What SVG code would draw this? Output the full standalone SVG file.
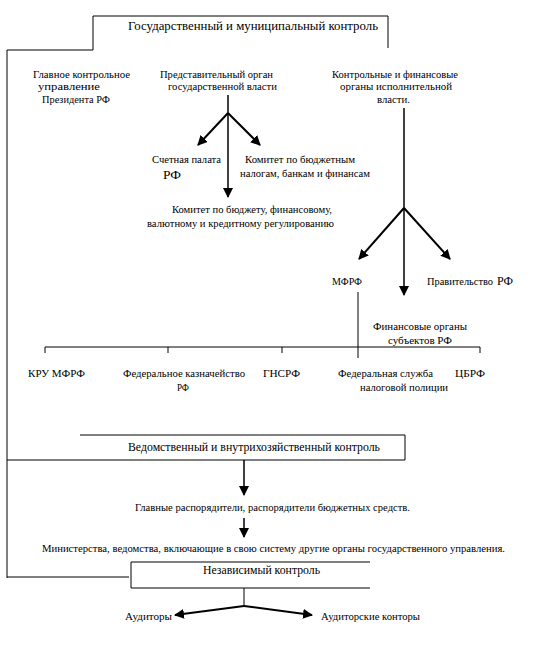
<svg xmlns="http://www.w3.org/2000/svg" width="536" height="658" viewBox="0 0 536 658" font-family="'Liberation Serif', 'Times New Roman', serif">
<defs>
<style>
text{font-family:'Liberation Serif','Times New Roman',serif;font-size:10px;fill:#000}
.big{font-size:13px}
.mid{font-size:12px}
.ln{stroke:#000;stroke-width:1;fill:none}
.ar{stroke:#000;stroke-width:2;fill:none;marker-end:url(#ah)}
.arl{stroke:#000;stroke-width:1.5;fill:none;marker-end:url(#ah)}
</style>
<marker id="ah" viewBox="0 0 10 10" refX="9" refY="5" markerWidth="10" markerHeight="10" markerUnits="userSpaceOnUse" orient="auto">
<path d="M0,0 L10,5 L0,10 z" fill="#000"/>
</marker>
</defs>
<rect width="536" height="658" fill="#fff"/>

<g id="connectors">
<path class="ln" d="M93,50 V16 H388 V48"/>
<path class="ln" d="M93,50 H7 V578"/>
<path class="arl" d="M228,95 V197"/>
<path class="ar" d="M228,113 L198,145"/>
<path class="ar" d="M228,113 L260,145"/>
<path class="arl" d="M404,108 V295"/>
<path class="ar" d="M404,208 L359,259"/>
<path class="ar" d="M404,208 L450,259"/>
<path class="ln" d="M358,292 V358"/>
<path class="ln" d="M45,353 V347 H480 V353 M168,347 V353 M282,347 V353"/>
<path class="ln" d="M80,435 H405 V460 H7"/>
<path class="arl" d="M244,460 V495"/>
<path class="arl" d="M244,518 V537"/>
<path class="ln" d="M370,562 H131 V588 H370 M7,577 H129"/>
<path class="ln" d="M244,588 V606"/>
<path class="ar" d="M244,606 L175,615"/>
<path class="ar" d="M244,606 L312,615"/>
</g>

<g id="n-state"><text class="big" x="128" y="30" textLength="250" lengthAdjust="spacingAndGlyphs">Государственный и муниципальный контроль</text></g>
<g id="n-gku">
<text x="33" y="78" textLength="97" lengthAdjust="spacingAndGlyphs">Главное контрольное</text>
<text x="38" y="90" textLength="62" lengthAdjust="spacingAndGlyphs">управление</text>
<text x="42" y="103" textLength="68" lengthAdjust="spacingAndGlyphs">Президента РФ</text>
</g>
<g id="n-repr">
<text x="160" y="78" textLength="113" lengthAdjust="spacingAndGlyphs">Представительный орган</text>
<text x="168" y="90" textLength="109" lengthAdjust="spacingAndGlyphs">государственной власти</text>
</g>
<g id="n-exec">
<text x="332" y="78" textLength="126" lengthAdjust="spacingAndGlyphs">Контрольные и финансовые</text>
<text x="340" y="90" textLength="112" lengthAdjust="spacingAndGlyphs">органы исполнительной</text>
<text x="377" y="103" textLength="33" lengthAdjust="spacingAndGlyphs">власти.</text>
</g>
<g id="n-sp">
<text x="152" y="163" textLength="69" lengthAdjust="spacingAndGlyphs">Счетная палата</text>
<text class="big" x="163" y="179" textLength="18" lengthAdjust="spacingAndGlyphs">РФ</text>
</g>
<g id="n-kom1">
<text x="245" y="163" textLength="110" lengthAdjust="spacingAndGlyphs">Комитет по бюджетным</text>
<text x="240" y="177" textLength="130" lengthAdjust="spacingAndGlyphs">налогам, банкам и финансам</text>
</g>
<g id="n-kom2">
<text x="172" y="213" textLength="160" lengthAdjust="spacingAndGlyphs">Комитет по бюджету, финансовому,</text>
<text x="147" y="227" textLength="187" lengthAdjust="spacingAndGlyphs">валютному и кредитному регулированию</text>
</g>
<g id="n-mfrf"><text x="332" y="285" textLength="30" lengthAdjust="spacingAndGlyphs">МФРФ</text></g>
<g id="n-gov"><text x="427" y="285" textLength="66" lengthAdjust="spacingAndGlyphs">Правительство</text><text class="big" x="497" y="285" textLength="16" lengthAdjust="spacingAndGlyphs">РФ</text></g>
<g id="n-fin"><text x="373" y="330" textLength="94" lengthAdjust="spacingAndGlyphs">Финансовые органы</text>
<text x="388" y="344" textLength="64" lengthAdjust="spacingAndGlyphs">субъектов РФ</text></g>
<g id="n-kru"><text x="28" y="377" textLength="57" lengthAdjust="spacingAndGlyphs">КРУ МФРФ</text></g>
<g id="n-fk"><text x="123" y="377" textLength="122" lengthAdjust="spacingAndGlyphs">Федеральное казначейство</text>
<text x="177" y="391" textLength="12" lengthAdjust="spacingAndGlyphs">РФ</text></g>
<g id="n-gns"><text x="263" y="377" textLength="37" lengthAdjust="spacingAndGlyphs">ГНСРФ</text></g>
<g id="n-fsnp"><text x="338" y="377" textLength="95" lengthAdjust="spacingAndGlyphs">Федеральная служба</text>
<text x="360" y="391" textLength="88" lengthAdjust="spacingAndGlyphs">налоговой полиции</text></g>
<g id="n-cb"><text x="455" y="377" textLength="30" lengthAdjust="spacingAndGlyphs">ЦБРФ</text></g>
<g id="n-ved"><text class="mid" x="128" y="451" textLength="252" lengthAdjust="spacingAndGlyphs">Ведомственный и внутрихозяйственный контроль</text></g>
<g id="n-gr"><text x="135" y="511" textLength="275" lengthAdjust="spacingAndGlyphs">Главные распорядители, распорядители бюджетных средств.</text></g>
<g id="n-min"><text x="42" y="552" textLength="463" lengthAdjust="spacingAndGlyphs">Министерства, ведомства, включающие в свою систему другие органы государственного управления.</text></g>
<g id="n-ind"><text class="mid" x="203" y="574" textLength="117" lengthAdjust="spacingAndGlyphs">Независимый контроль</text></g>
<g id="n-aud"><text x="125" y="620" textLength="47" lengthAdjust="spacingAndGlyphs">Аудиторы</text></g>
<g id="n-audk"><text x="321" y="620" textLength="99" lengthAdjust="spacingAndGlyphs">Аудиторские конторы</text></g>
</svg>
